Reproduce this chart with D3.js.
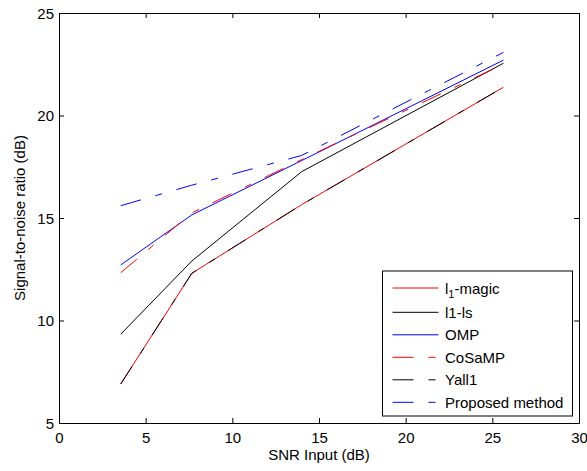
<!DOCTYPE html>
<html lang="en">
<head>
    <meta charset="UTF-8">
    <title>SNR chart</title>
    <script src="https://cdn.jsdelivr.net/npm/d3@7"></script>
    <style>
        body { margin: 0; background: #fff; }
        #mainsvg { display: block; }
        text { font-family: "Liberation Sans", Arial, sans-serif; }
    </style>
</head>
<body>
    <svg width="587" height="471" id="mainsvg"></svg>
    <script>
        // data
        const snrInput = [3.56, 7.66, 14, 25.64]
        const l1magic = [6.9, 12.3, 15.65, 21.38]
        const l1ls = [9.33, 12.9, 17.26, 22.55]
        const omp = [12.71, 15.15, 17.8, 22.7]
        const cosamp = [12.33, 15.25, 17.85, 22.5]
        const yall1 = [6.9, 12.3, 15.65, 21.38]
        const proposed = [15.6, 16.6, 18.05, 23.08]
        const seriesNames = ["l1-magic", "l1-ls", "OMP", "CoSaMP", "Yall1", "Proposed method"]
        const xTicks = [0, 5, 10, 15, 20, 25, 30]
        const yTicks = [5, 10, 15, 20, 25]

        const styles = [
            {color: "#ff0000", dash: null},
            {color: "#000000", dash: null},
            {color: "#0000ff", dash: null},
            {color: "#ff0000", dash: "21,15,7,15"},
            {color: "#000000", dash: "21,15,7,15"},
            {color: "#0000ff", dash: "21,15,7,15"}
        ]
        const allSeries = [l1magic, l1ls, omp, cosamp, yall1, proposed]

        const svg = d3.select('svg')
        const margin = {top: 13, right: 8, bottom: 48, left: 59}
        const innerWidth = 579 - margin.left
        const innerHeight = 423 - margin.top

        const g = svg.append('g')
            .attr('transform', `translate(${margin.left}, ${margin.top})`)

        const x = d3.scaleLinear().domain([0, 30]).range([0, innerWidth])
        const y = d3.scaleLinear().domain([5, 25]).range([innerHeight, 0])

        // lines
        const line = d3.line().x(d => x(d[0])).y(d => y(d[1]))
        allSeries.forEach((s, i) => {
            g.append('path')
                .datum(snrInput.map((v, j) => [v, s[j]]))
                .attr('fill', 'none')
                .attr('stroke', styles[i].color)
                .attr('stroke-width', 1)
                .attr('stroke-dasharray', styles[i].dash)
                .attr('d', line)
        })

        // axes, matlab-like inward ticks on all sides
        const fs = '15px'
        const axBottom = g.append('g').attr('transform', `translate(0, ${innerHeight})`)
            .call(d3.axisBottom(x).tickValues(xTicks).tickSize(-5).tickSizeOuter(0))
        const axLeft = g.append('g')
            .call(d3.axisLeft(y).tickValues(yTicks).tickSize(-5).tickSizeOuter(0))
        const axTop = g.append('g')
            .call(d3.axisTop(x).tickValues(xTicks).tickSize(-5).tickSizeOuter(0))
        const axRight = g.append('g').attr('transform', `translate(${innerWidth}, 0)`)
            .call(d3.axisRight(y).tickValues(yTicks).tickSize(-5).tickSizeOuter(0))
        axTop.selectAll('text').remove()
        axRight.selectAll('text').remove()
        axBottom.selectAll('text').attr('dy', null).attr('y', 20)
        axLeft.selectAll('text').attr('dy', null).attr('x', -5).attr('y', 5)
        ;[axBottom, axLeft, axTop, axRight].forEach(a => {
            a.attr('font-size', null).attr('font-family', null)
            a.selectAll('path').attr('stroke', '#000').attr('stroke-width', 1)
            a.selectAll('line').attr('stroke', '#000')
            a.selectAll('text').attr('font-size', fs).attr('fill', '#000')
        })

        // axis titles
        svg.append('text')
            .attr('x', margin.left + innerWidth / 2).attr('y', 460)
            .attr('text-anchor', 'middle').attr('font-size', fs)
            .text('SNR Input (dB)')
        svg.append('text')
            .attr('transform', `translate(25, ${margin.top + innerHeight / 2}) rotate(-90)`)
            .attr('text-anchor', 'middle').attr('font-size', fs)
            .text('Signal-to-noise ratio (dB)')

        // legend
        const lg = svg.append('g')
        lg.append('rect')
            .attr('x', 382.5).attr('y', 271).attr('width', 190).attr('height', 145)
            .attr('fill', '#fff').attr('stroke', '#000').attr('stroke-width', 1)
        seriesNames.forEach((name, i) => {
            const yy = i === 0 ? 288 : 312.3 + (i - 1) * 22.5
            lg.append('line')
                .attr('x1', 392.5).attr('x2', 438.5).attr('y1', yy).attr('y2', yy)
                .attr('stroke', styles[i].color).attr('stroke-width', 1)
                .attr('stroke-dasharray', styles[i].dash)
            const t = lg.append('text')
                .attr('x', 445).attr('y', yy + 5.5).attr('font-size', fs)
            if (i === 0) {
                t.append('tspan').text('l')
                t.append('tspan').attr('dy', 4).attr('font-size', '11px').text('1')
                t.append('tspan').attr('dy', -4).text('-magic')
            } else {
                t.text(name)
            }
        })
    </script>
</body>
</html>
